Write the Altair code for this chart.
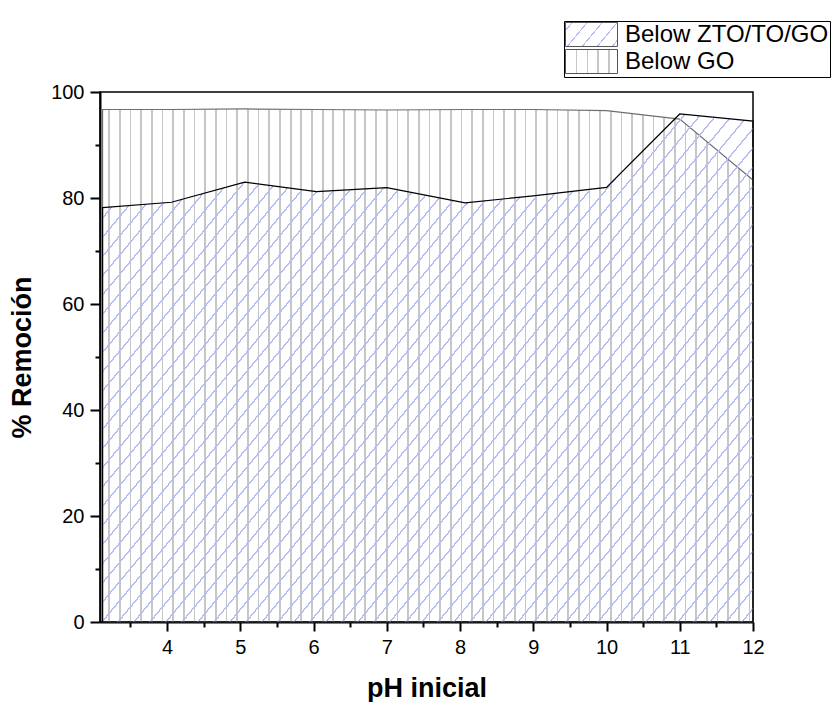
import json
import altair as alt
import pandas as pd

# ---------------- data ----------------
PH_VALUES = [3.12, 4.06, 5.06, 6.04, 7.0, 8.07, 9.0, 10.0, 11.0, 12.0]
ZTO_TO_GO = [78.2, 79.2, 83.0, 81.2, 81.95, 79.1, 80.4, 82.0, 95.85, 94.5]
GO_ONLY = [96.7, 96.7, 96.8, 96.7, 96.6, 96.7, 96.7, 96.5, 94.9, 83.4]
SERIES = ["Below ZTO/TO/GO", "Below GO"]
X_MAJOR = [4, 5, 6, 7, 8, 9, 10, 11, 12]
X_MINOR = [3.5, 4.5, 5.5, 6.5, 7.5, 8.5, 9.5, 10.5, 11.5]
Y_MAJOR = [0, 20, 40, 60, 80, 100]
Y_MINOR = [10, 30, 50, 70, 90]

# ---------------- layout / style ----------------
FONT = "Liberation Sans"
PW, PHT = 653, 530
XMIN, XMAX = 3.085, 12.0
YMIN, YMAX = 0, 100
BLUE = "#b4bcf6"
GREY = "#c6c6c6"
CLEAR = "rgba(255,255,255,0)"
SLOPE = 1.2  # steepness of the "/" hatch (dy/dx in pixels)

df = pd.DataFrame({"pH": PH_VALUES, "zto": ZTO_TO_GO, "go": GO_ONLY})
legend_df = pd.DataFrame({"s": SERIES})


def xpix(v):
    return (v - XMIN) / (XMAX - XMIN) * PW


def stripe_stops(centers, half, total, color):
    stops = []
    for c in centers:
        a = max(0.0, (c - half) / total)
        b = min(1.0, (c + half) / total)
        if b <= 0 or a >= 1:
            continue
        stops += [(a, CLEAR), (a, color), (b, color), (b, CLEAR)]
    return [{"offset": round(o, 5), "color": col} for o, col in stops]


def vertical_hatch(width, first, step, half, color):
    centers = []
    c = first
    while c < width:
        centers.append(c)
        c += step
    return {"gradient": "linear", "x1": 0, "y1": 0, "x2": 1, "y2": 0,
            "stops": stripe_stops(centers, half, width, color)}


def diagonal_hatch(width, height, first, hstep, lw, color, a=SLOPE):
    # stripes are lines a*x + y = const (pixel coords inside the bounding box)
    total = a * width + height
    s = total / (a * a * width * width + height * height)
    step = a * hstep
    half = lw * (a * a + 1) ** 0.5 / 2
    centers = []
    c = first
    while c < total:
        centers.append(c)
        c += step
    return {"gradient": "linear", "x1": 0, "y1": 0,
            "x2": round(s * a * width, 5), "y2": round(s * height, 5),
            "stops": stripe_stops(centers, half, total, color)}


def on_white(grad):
    g = dict(grad)
    g["stops"] = [{"offset": 0, "color": "white"}] + [
        {"offset": st["offset"], "color": ("white" if st["color"] == CLEAR else st["color"])}
        for st in grad["stops"]] + [{"offset": 1, "color": "white"}]
    return g


area_w = xpix(max(PH_VALUES)) - xpix(min(PH_VALUES))
go_grad = vertical_hatch(area_w, 6.7, 10.67, 0.85, GREY)
zto_h = PHT * max(ZTO_TO_GO) / YMAX
zto_grad = diagonal_hatch(area_w, zto_h, 8.0, 16.0, 1.35, BLUE)

# legend swatches 52 x 24
SW, SH = 52, 24
leg_zto = on_white(diagonal_hatch(SW, SH, 8.0, 15.0, 1.2, BLUE))
leg_go = on_white(vertical_hatch(SW, 11.0, 10.9, 0.85, GREY))

xscale = alt.Scale(domain=[XMIN, XMAX], nice=False, zero=False)
yscale = alt.Scale(domain=[YMIN, YMAX], nice=False)

x_axis_major = alt.Axis(values=X_MAJOR, tickSize=9, labelPadding=6, titlePadding=18,
                        orient="bottom", labelFlush=False)
y_axis_major = alt.Axis(values=Y_MAJOR, tickSize=10, labelPadding=6, titlePadding=14,
                        orient="left")
x_axis_minor = alt.Axis(values=X_MINOR, tickSize=5, labels=False, domain=False,
                        title=None, orient="bottom")
y_axis_minor = alt.Axis(values=Y_MINOR, tickSize=5, labels=False, domain=False,
                        title=None, orient="left")

go_layer = alt.Chart(df).mark_area(
    fill=alt.LinearGradient(**go_grad), stroke="#6e6e6e", strokeWidth=1.2,
    interpolate="linear"
).encode(
    x=alt.X("pH:Q", scale=xscale, axis=x_axis_major, title="pH inicial"),
    y=alt.Y("go:Q", scale=yscale, axis=y_axis_major, title="% Remoción"),
)

zto_layer = alt.Chart(df).mark_area(
    fill=alt.LinearGradient(**zto_grad), stroke="black", strokeWidth=1.2,
    interpolate="linear"
).encode(
    x=alt.X("pH:Q", scale=xscale, axis=x_axis_minor),
    y=alt.Y("zto:Q", scale=yscale, axis=y_axis_minor),
)

legend_layer = alt.Chart(legend_df).transform_filter("false").mark_rect(
    stroke="#555555", strokeWidth=1
).encode(
    fill=alt.Fill(
        "s:N",
        scale=alt.Scale(domain=SERIES,
                        range=[alt.ExprRef(expr=json.dumps(leg_zto)),
                               alt.ExprRef(expr=json.dumps(leg_go))]),
        legend=alt.Legend(
            title=None, orient="none", legendX=464, legendY=-71,
            symbolType="M-2.1667,-1H2.1667V1H-2.1667Z", symbolSize=576,
            symbolOffset=14, labelOffset=21, labelFont=FONT, labelFontSize=24,
            labelColor="black", labelLimit=400, strokeColor="black",
            fillColor="white", padding=1, rowPadding=-3,
            symbolStrokeColor="#555555", symbolStrokeWidth=1, symbolOpacity=1,
        ),
    )
)

chart = alt.layer(go_layer, zto_layer, legend_layer).resolve_axis(
    x="independent", y="independent"
).properties(
    width=PW, height=PHT,
    autosize=alt.AutoSizeParams(type="none"),
    padding={"left": 100, "top": 92, "right": 84, "bottom": 80},
).configure_view(
    stroke="black", strokeWidth=1.5
).configure_axis(
    grid=False, domainColor="black", domainWidth=2, tickColor="black", tickWidth=2,
    labelFont=FONT, labelFontSize=20, labelColor="black",
    titleFont=FONT, titleFontSize=27, titleFontWeight="bold", titleColor="black",
)

chart.save("out.html", embed_options={"renderer": "svg", "actions": False})
